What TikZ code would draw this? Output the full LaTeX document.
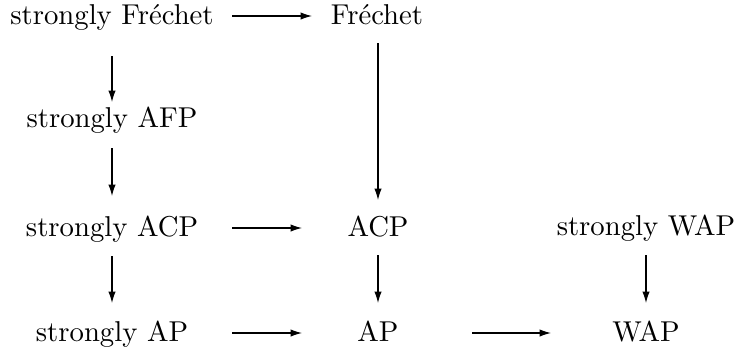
\documentclass[tikz,border=0pt]{standalone}
\usepackage{fontspec}
\usetikzlibrary{arrows.meta}
\begin{document}
\begin{tikzpicture}[x=0.3484pt,y=-0.3484pt,
  lbl/.style={anchor=base,inner sep=0pt},
  arr/.style={-{Latex[length=4pt,width=2.6pt]},line width=0.4pt}]
\useasboundingbox (0,0) rectangle (735,353);
% nodes, placed by baseline
\node[lbl] (sf)   at (112,24)  {strongly Fréchet};
\node[lbl] (f)    at (377,24)  {Fréchet};
\node[lbl] (safp) at (112,127) {strongly AFP};
\node[lbl] (sacp) at (112,236) {strongly ACP};
\node[lbl] (acp)  at (378,236) {ACP};
\node[lbl] (swap) at (646,235) {strongly WAP};
\node[lbl] (sap)  at (112,341) {strongly AP};
\node[lbl] (ap)   at (378,341) {AP};
\node[lbl] (wap)  at (646,341) {WAP};
% horizontal implications
\draw[arr] ([shift={(120,-8)}]sf.base)   -- ([shift={(-65,-8)}]f.base);
\draw[arr] ([shift={(120,-8)}]sacp.base) -- ([shift={(-76,-8)}]acp.base);
\draw[arr] ([shift={(120,-8)}]sap.base)  -- ([shift={(-76,-8)}]ap.base);
\draw[arr] ([shift={(94,-8)}]ap.base)    -- ([shift={(-95,-8)}]wap.base);
% vertical implications
\draw[arr] ([shift={(0,32)}]sf.base)   -- ([shift={(0,-25)}]safp.base);
\draw[arr] ([shift={(0,21)}]safp.base) -- ([shift={(0,-40)}]sacp.base);
\draw[arr] ([shift={(0,20)}]sacp.base) -- ([shift={(0,-38)}]sap.base);
\draw[arr] ([shift={(1,19)}]f.base)    -- ([shift={(0,-36)}]acp.base);
\draw[arr] ([shift={(0,19)}]acp.base)  -- ([shift={(0,-38)}]ap.base);
\draw[arr] ([shift={(0,20)}]swap.base) -- ([shift={(0,-38)}]wap.base);
\end{tikzpicture}
\end{document}
